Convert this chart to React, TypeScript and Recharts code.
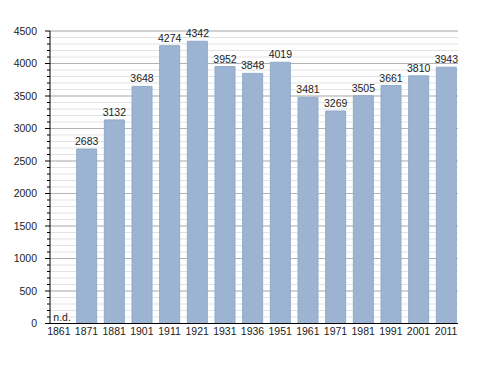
import React from 'react';
import {
  ComposedChart,
  Bar,
  Line,
  XAxis,
  YAxis,
  CartesianGrid,
  LabelList,
} from 'recharts';

const years = ['1861', '1871', '1881', '1901', '1911', '1921', '1931', '1936', '1951', '1961', '1971', '1981', '1991', '2001', '2011'];
const population: (number | null)[] = [null, 2683, 3132, 3648, 4274, 4342, 3952, 3848, 4019, 3481, 3269, 3505, 3661, 3810, 3943];
const majorTicks = [0, 500, 1000, 1500, 2000, 2500, 3000, 3500, 4000, 4500];
const minorTicks = Array.from({ length: 46 }, (_, i) => i * 100);

// "n.d." (no data) marker sits at the base of the empty years
const chartData = years.map((year, i) => ({
  year,
  value: population[i],
  nd: population[i] == null ? 0 : null,
}));

const FONT = '"Liberation Sans", Arial, sans-serif';
const FS = 10.5;

const YTick = (props: any) => {
  const { x, y, payload } = props;
  const major = payload.value % 500 === 0;
  return (
    <g>
      <line x1={x - (major ? 5 : 3)} x2={x} y1={y} y2={y} stroke="#000" strokeWidth={1} />
      {major && (
        <text x={x - 13} y={y} dy="0.355em" textAnchor="end" fontSize={FS} fill="#222" fontFamily={FONT}>
          {payload.value}
        </text>
      )}
    </g>
  );
};

const BarLabel = (props: any) => {
  const { x, y, width, value } = props;
  if (value == null) return null;
  return (
    <text x={x + width / 2} y={y} dy={-4} textAnchor="middle" fontSize={FS} fill="#222" fontFamily={FONT}>
      {value}
    </text>
  );
};

const NdLabel = (props: any) => {
  const { x, y, value } = props;
  if (value == null) return null;
  return (
    <text x={x - 5.5} y={y} dy={-3} textAnchor="start" fontSize={FS} fill="#222" fontFamily={FONT}>
      n.d.
    </text>
  );
};

export default function App() {
  return (
    <div style={{ position: 'absolute', left: 0, top: 0, background: '#fff' }}>
      <ComposedChart
        width={488}
        height={373}
        data={chartData}
        margin={{ top: 31, right: 30, bottom: 29.5, left: 0 }}
        barSize={20}
      >
        <CartesianGrid vertical={false} horizontalValues={minorTicks} stroke="#e3e3e3" />
        <CartesianGrid vertical={false} horizontalValues={majorTicks} stroke="#b3b3b3" />
        <XAxis
          dataKey="year"
          height={20}
          padding={{ left: -5, right: -2 }}
          tickLine={false}
          tickSize={0}
          tickMargin={4}
          interval={0}
          stroke="#000"
          tick={{ fontSize: FS, fill: '#222', fontFamily: FONT }}
        />
        <YAxis
          width={50}
          domain={[0, 4500]}
          ticks={minorTicks}
          interval={0}
          tickLine={false}
          tickSize={0}
          tickMargin={0}
          stroke="#000"
          tick={<YTick />}
        />
        <Bar dataKey="value" fill="#9cb4d1" stroke="#90aac9" strokeWidth={1} isAnimationActive={false}>
          <LabelList dataKey="value" content={<BarLabel />} />
        </Bar>
        <Line dataKey="nd" stroke="none" dot={false} activeDot={false} isAnimationActive={false}>
          <LabelList dataKey="nd" content={<NdLabel />} />
        </Line>
      </ComposedChart>
    </div>
  );
}
